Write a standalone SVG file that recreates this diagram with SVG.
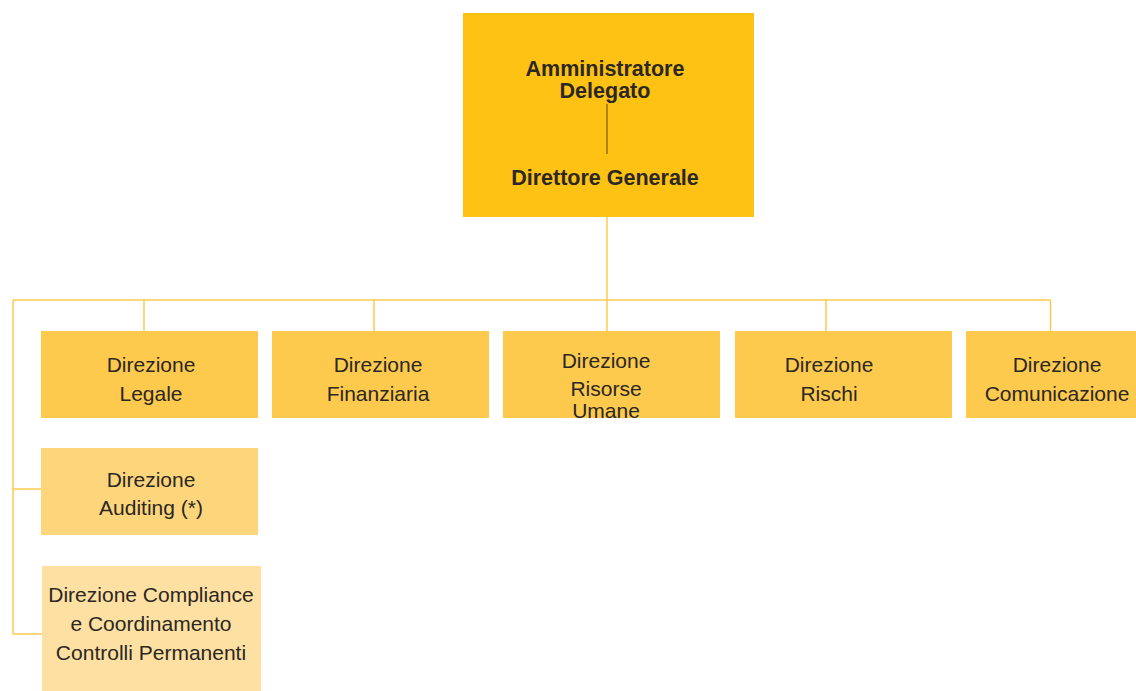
<svg xmlns="http://www.w3.org/2000/svg" width="1136" height="691" viewBox="0 0 1136 691">
<style>
.t{font-family:"Liberation Sans",Arial,sans-serif;font-size:21px;fill:#2b2722;text-anchor:middle}
.b{font-weight:bold;font-size:21.5px}
.c{fill:none;stroke:#fdca4d;stroke-width:1.5}
.l1{fill:#fdca4d}
.l2{fill:#fdd67c}
.l3{fill:#fee1a2}
</style>
<rect width="1136" height="691" fill="#ffffff"/>
<g id="connectors">
<path class="c" d="M607 217V300M13 300H1050.5M144 300V331M374 300V331M607 300V331M826 300V331M1050.5 300V331M13 300V634M13 489H41M13 634H42"/>
</g>
<g id="top">
<rect x="463" y="13" width="291" height="204" fill="#fdc213"/>
<line x1="607" y1="104" x2="607" y2="154" stroke="#7a5a12" stroke-width="1.2"/>
<text class="t b" x="605" y="76">Amministratore</text>
<text class="t b" x="605" y="98">Delegato</text>
<text class="t b" x="605" y="185">Direttore Generale</text>
</g>
<g id="legale">
<rect class="l1" x="41" y="331" width="217" height="87"/>
<text class="t" x="151" y="372">Direzione</text>
<text class="t" x="151" y="401">Legale</text>
</g>
<g id="finanziaria">
<rect class="l1" x="272" y="331" width="217" height="87"/>
<text class="t" x="378" y="372">Direzione</text>
<text class="t" x="378" y="401">Finanziaria</text>
</g>
<g id="risorse">
<rect class="l1" x="503" y="331" width="217" height="87"/>
<text class="t" x="606" y="368">Direzione</text>
<text class="t" x="606" y="396">Risorse</text>
<text class="t" x="606" y="418">Umane</text>
</g>
<g id="rischi">
<rect class="l1" x="735" y="331" width="217" height="87"/>
<text class="t" x="829" y="372">Direzione</text>
<text class="t" x="829" y="401">Rischi</text>
</g>
<g id="comunicazione">
<rect class="l1" x="966" y="331" width="170" height="87"/>
<text class="t" x="1057" y="372">Direzione</text>
<text class="t" x="1057" y="401">Comunicazione</text>
</g>
<g id="auditing">
<rect class="l2" x="41" y="448" width="217" height="87"/>
<text class="t" x="151" y="487">Direzione</text>
<text class="t" x="151" y="515">Auditing (*)</text>
</g>
<g id="compliance">
<rect class="l3" x="42" y="566" width="219" height="125"/>
<text class="t" x="151" y="602">Direzione Compliance</text>
<text class="t" x="151" y="631">e Coordinamento</text>
<text class="t" x="151" y="660">Controlli Permanenti</text>
</g>
</svg>
